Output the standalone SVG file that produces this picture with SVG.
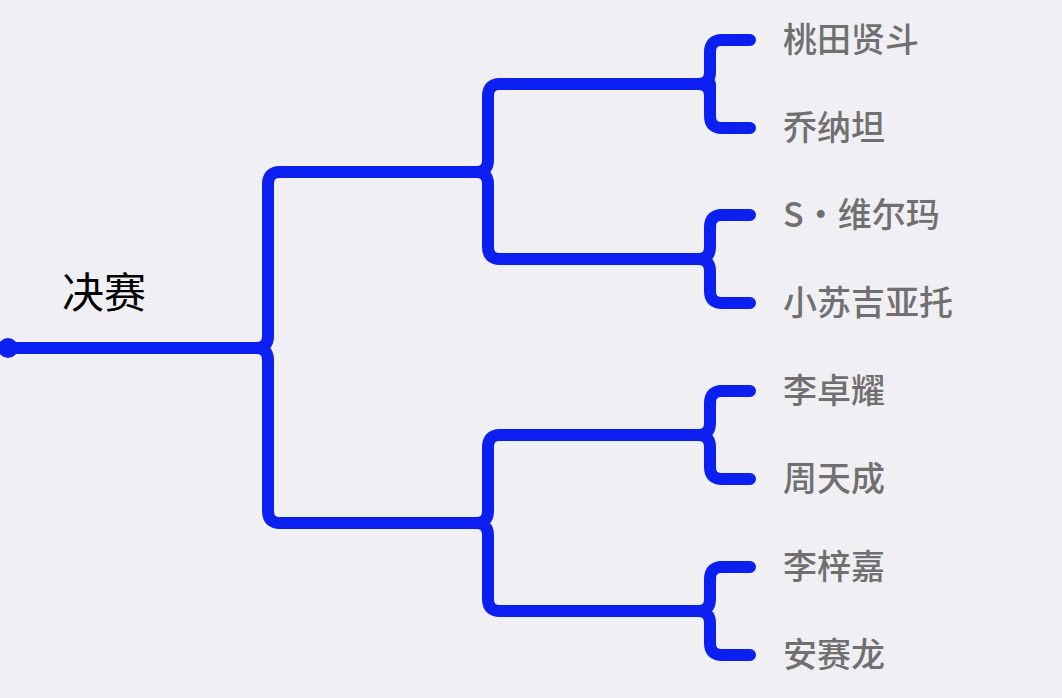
<svg xmlns="http://www.w3.org/2000/svg" width="1062" height="698" viewBox="0 0 1062 698">
<style>
.c{fill:none;stroke:#0a1ff0;stroke-width:12;stroke-linecap:round;stroke-linejoin:round}
.l{font-family:"Noto Sans CJK SC","Noto Sans",sans-serif;font-size:34px;font-weight:500;fill:#707070}
.r{font-family:"Noto Sans CJK SC","Noto Sans",sans-serif;font-size:42px;fill:#000}
</style>
<rect width="1062" height="698" fill="#f0eff4"/>
<g id="connectors">
<circle cx="8" cy="348" r="10" fill="#0a1ff0"/>
<path class="c" d="M8,348 H256 Q268,348 268,336 V184 Q268,172 280,172 H476 Q488,172 488,160 V96 Q488,84 500,84 H698 Q710,84 710,72 V52 Q710,40 722,40 H750 M710,84 Q710,96 710,96 V116 Q710,128 722,128 H750 M698,84 Q710,84 710,96 M476,172 Q488,172 488,184 V247 Q488,259 500,259 H698 Q710,259 710,247 V227 Q710,215 722,215 H750 M698,259 Q710,259 710,271 V291 Q710,303 722,303 H750 M256,348 Q268,348 268,360 V511 Q268,523 280,523 H476 Q488,523 488,511 V447 Q488,435 500,435 H698 Q710,435 710,423 V403 Q710,391 722,391 H750 M698,435 Q710,435 710,447 V467 Q710,479 722,479 H750 M476,523 Q488,523 488,535 V599 Q488,611 500,611 H698 Q710,611 710,599 V579 Q710,567 722,567 H750 M698,611 Q710,611 710,623 V643 Q710,655 722,655 H750"/>
</g>
<g id="root"><text class="r" x="62" y="308">决赛</text></g>
<g id="n1"><text class="l" x="783" y="52">桃田贤斗</text></g>
<g id="n2"><text class="l" x="783" y="140">乔纳坦</text></g>
<g id="n3"><text class="l" x="783" y="227">S·维尔玛</text></g>
<g id="n4"><text class="l" x="783" y="315">小苏吉亚托</text></g>
<g id="n5"><text class="l" x="783" y="403">李卓耀</text></g>
<g id="n6"><text class="l" x="783" y="491">周天成</text></g>
<g id="n7"><text class="l" x="783" y="579">李梓嘉</text></g>
<g id="n8"><text class="l" x="783" y="667">安赛龙</text></g>
</svg>
